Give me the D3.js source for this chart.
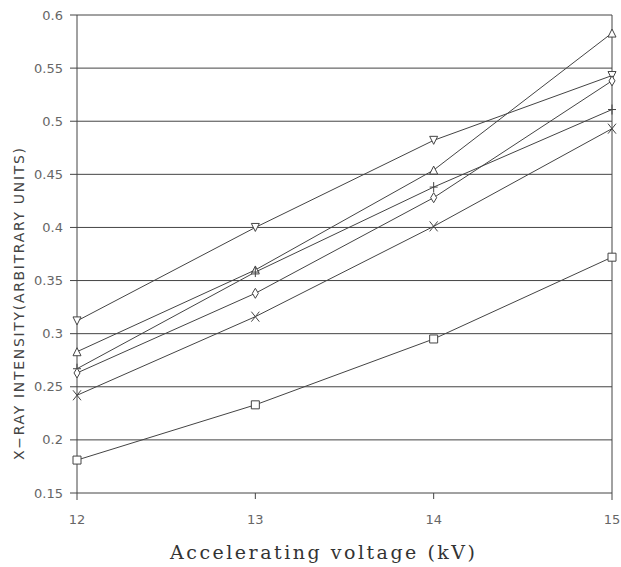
<!DOCTYPE html>
<html>
<head>
<meta charset="utf-8">
<script src="https://cdn.jsdelivr.net/npm/d3@7"></script>
<style>
  body { margin: 0; background: #fff; }
  svg { display: block; }
</style>
</head>
<body>
<div id="chart"></div>
<script>
// accelerating voltage (kV)
var voltages = [12, 13, 14, 15];
var yTicks = [0.15, 0.2, 0.25, 0.3, 0.35, 0.4, 0.45, 0.5, 0.55, 0.6];

// x-ray intensity, one array per marker type
var downTri = [0.312, 0.400, 0.482, 0.543];
var upTri   = [0.283, 0.360, 0.454, 0.583];
var plus    = [0.267, 0.358, 0.438, 0.511];
var diamond = [0.263, 0.338, 0.428, 0.538];
var cross   = [0.242, 0.316, 0.401, 0.493];
var square  = [0.181, 0.233, 0.295, 0.372];

var series = [
  {name: "down", values: downTri},
  {name: "up", values: upTri},
  {name: "plus", values: plus},
  {name: "diamond", values: diamond},
  {name: "cross", values: cross},
  {name: "square", values: square}
];

var width = 621, height = 567,
    margin = {top: 15, right: 9, bottom: 74, left: 77};
var w = width - margin.left - margin.right,
    h = height - margin.top - margin.bottom;

var svg = d3.select("#chart").append("svg").attr("width", width).attr("height", height);
var g = svg.append("g").attr("transform", "translate(" + margin.left + "," + margin.top + ")");

var x = d3.scaleLinear().domain([12, 15]).range([0, w]);
var y = d3.scaleLinear().domain([0.15, 0.6]).range([h, 0]);

var ink = "#444";

// horizontal grid lines with left tick stubs
g.selectAll(".grid").data(yTicks).enter().append("line")
    .attr("x1", -7).attr("x2", w)
    .attr("y1", function(d) { return y(d); })
    .attr("y2", function(d) { return y(d); })
    .attr("stroke", ink).attr("stroke-width", 1);

// left and right vertical borders
[12, 15].forEach(function(v) {
  g.append("line")
      .attr("x1", x(v)).attr("x2", x(v))
      .attr("y1", 0).attr("y2", h + 7)
      .attr("stroke", ink).attr("stroke-width", 1);
});

// inner x ticks
[13, 14].forEach(function(v) {
  g.append("line")
      .attr("x1", x(v)).attr("x2", x(v))
      .attr("y1", h).attr("y2", h + 6)
      .attr("stroke", ink).attr("stroke-width", 1);
});

// tick labels
g.selectAll(".ylab").data(yTicks).enter().append("text")
    .attr("x", -14).attr("y", function(d) { return y(d); })
    .attr("dy", "0.35em").attr("text-anchor", "end")
    .style("font-family", "DejaVu Sans, sans-serif").style("font-size", "13px")
    .attr("fill", "#666")
    .text(function(d) { return d3.format("")(d); });

g.selectAll(".xlab").data(voltages).enter().append("text")
    .attr("x", function(d) { return x(d); }).attr("y", h + 31)
    .attr("text-anchor", "middle")
    .style("font-family", "DejaVu Sans, sans-serif").style("font-size", "13px")
    .attr("fill", "#666")
    .text(function(d) { return d; });

// lines
var line = d3.line()
    .x(function(d, i) { return x(voltages[i]); })
    .y(function(d) { return y(d); });

g.selectAll(".series").data(series).enter().append("path")
    .attr("d", function(d) { return line(d.values); })
    .attr("fill", "none").attr("stroke", ink).attr("stroke-width", 1);

// markers
function markerPath(name) {
  var s = 4;
  if (name == "down") return "M" + (-s) + "," + (-s) + "L" + s + "," + (-s) + "L0," + s + "Z";
  if (name == "up") return "M" + (-s) + "," + s + "L" + s + "," + s + "L0," + (-s) + "Z";
  if (name == "plus") return "M" + (-s) + ",0L" + s + ",0M0," + (-s - 1) + "L0," + (s + 1);
  if (name == "diamond") return "M0," + (-s - 1) + "L" + (s - 1) + ",0L0," + (s + 1) + "L" + (-s + 1) + ",0Z";
  if (name == "cross") return "M" + (-s) + "," + (-s - 1) + "L" + s + "," + (s + 1) + "M" + s + "," + (-s - 1) + "L" + (-s) + "," + (s + 1);
  return "M" + (-s) + "," + (-s) + "L" + s + "," + (-s) + "L" + s + "," + s + "L" + (-s) + "," + s + "Z";
}

series.forEach(function(sr) {
  g.selectAll(".m-" + sr.name).data(sr.values).enter().append("path")
      .attr("transform", function(d, i) { return "translate(" + x(voltages[i]) + "," + y(d) + ")"; })
      .attr("d", markerPath(sr.name))
      .attr("fill", "#fff").attr("fill-opacity", sr.name == "plus" || sr.name == "cross" ? 0 : 1)
      .attr("stroke", ink).attr("stroke-width", 1);
});

// axis titles
svg.append("text")
    .attr("x", 170).attr("y", 559)
    .attr("textLength", 305).attr("lengthAdjust", "spacing")
    .style("font-family", "DejaVu Serif, serif").style("font-size", "19px")
    .attr("fill", "#333")
    .text("Accelerating voltage (kV)");

svg.append("text")
    .attr("transform", "translate(24,304) rotate(-90)")
    .attr("text-anchor", "middle")
    .attr("textLength", 312).attr("lengthAdjust", "spacing")
    .style("font-family", "DejaVu Sans, sans-serif").style("font-size", "14px")
    .attr("fill", "#444")
    .text("X\u2212RAY INTENSITY(ARBITRARY UNITS)");
</script>
</body>
</html>
